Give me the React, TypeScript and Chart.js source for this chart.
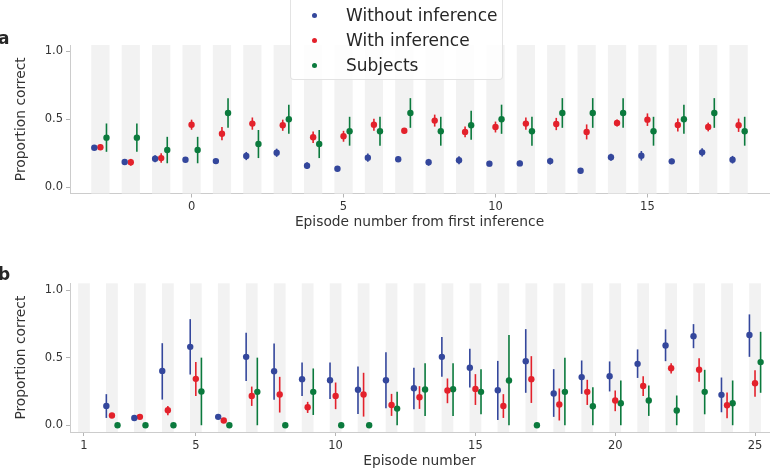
import React, { useEffect, useRef } from 'react';
import { Chart, registerables } from 'chart.js';

Chart.register(...registerables);

// ---------- DATA ----------
const topEpisodes = [-3, -2, -1, 0, 1, 2, 3, 4, 5, 6, 7, 8, 9, 10, 11, 12, 13, 14, 15, 16, 17, 18];
const topXTicks = [0, 5, 10, 15];
const topWithoutMean = [0.291, 0.186, 0.21, 0.203, 0.193, 0.23, 0.254, 0.159, 0.137, 0.218, 0.206, 0.184, 0.199, 0.174, 0.176, 0.193, 0.122, 0.221, 0.232, 0.191, 0.257, 0.203];
const topWithoutErr = [0.015, 0.02, 0.025, 0.02, 0.015, 0.03, 0.03, 0.025, 0.02, 0.03, 0.02, 0.025, 0.03, 0.02, 0.02, 0.025, 0.02, 0.025, 0.035, 0.02, 0.03, 0.028];
const topWithMean = [0.294, 0.184, 0.215, 0.46, 0.394, 0.468, 0.456, 0.368, 0.375, 0.46, 0.416, 0.49, 0.407, 0.443, 0.468, 0.465, 0.407, 0.473, 0.497, 0.458, 0.443, 0.456];
const topWithErr = [0.02, 0.025, 0.035, 0.037, 0.049, 0.045, 0.041, 0.043, 0.04, 0.044, 0.02, 0.044, 0.04, 0.04, 0.045, 0.045, 0.055, 0.026, 0.046, 0.048, 0.032, 0.049];
const topSubjectsMean = [0.365, 0.365, 0.274, 0.274, 0.546, 0.318, 0.5, 0.318, 0.412, 0.412, 0.546, 0.412, 0.456, 0.5, 0.412, 0.546, 0.546, 0.546, 0.412, 0.5, 0.546, 0.412];
const topSubjectsErr = [0.104, 0.104, 0.097, 0.097, 0.109, 0.103, 0.107, 0.103, 0.106, 0.106, 0.109, 0.106, 0.107, 0.107, 0.106, 0.109, 0.109, 0.109, 0.106, 0.107, 0.109, 0.106];

const bottomEpisodes = [1, 2, 3, 4, 5, 6, 7, 8, 9, 10, 11, 12, 13, 14, 15, 16, 17, 18, 19, 20, 21, 22, 23, 24, 25];
const bottomXTicks = [1, 5, 10, 15, 20, 25];
const bottomWithoutMean = [null, 0.143, 0.054, 0.402, 0.58, 0.062, 0.506, 0.4, 0.341, 0.333, 0.262, 0.333, 0.274, 0.506, 0.425, 0.259, 0.474, 0.235, 0.356, 0.363, 0.454, 0.59, 0.659, 0.225, 0.667];
const bottomWithoutLo = [null, 0.054, 0.05, 0.19, 0.375, 0.058, 0.328, 0.188, 0.217, 0.195, 0.084, 0.126, 0.119, 0.358, 0.279, 0.039, 0.24, 0.062, 0.232, 0.25, 0.35, 0.474, 0.57, 0.096, 0.506];
const bottomWithoutHi = [null, 0.23, 0.058, 0.607, 0.785, 0.066, 0.684, 0.605, 0.464, 0.464, 0.435, 0.54, 0.425, 0.652, 0.565, 0.476, 0.711, 0.415, 0.479, 0.472, 0.561, 0.709, 0.748, 0.353, 0.82];
const bottomWithMean = [null, 0.072, 0.062, 0.111, 0.343, 0.035, 0.217, 0.227, 0.133, 0.217, 0.227, 0.15, 0.207, 0.257, 0.269, 0.143, 0.341, 0.153, 0.247, 0.183, 0.291, 0.422, 0.41, 0.148, 0.311];
const bottomWithLo = [null, 0.055, 0.058, 0.074, 0.217, 0.031, 0.143, 0.094, 0.091, 0.119, 0.064, 0.069, 0.121, 0.163, 0.15, 0.054, 0.165, 0.035, 0.15, 0.104, 0.217, 0.383, 0.321, 0.052, 0.21];
const bottomWithHi = [null, 0.09, 0.066, 0.143, 0.467, 0.039, 0.286, 0.358, 0.173, 0.316, 0.388, 0.232, 0.289, 0.346, 0.378, 0.23, 0.511, 0.272, 0.336, 0.257, 0.363, 0.459, 0.496, 0.242, 0.407];
const bottomSubjectsMean = [null, 0, 0, 0, 0.25, 0, 0.247, 0, 0.247, 0, 0, 0.123, 0.264, 0.267, 0.247, 0.331, 0, 0.247, 0.141, 0.163, 0.183, 0.109, 0.247, 0.163, 0.467];
const bottomSubjectsLo = [null, 0, 0, 0, 0, 0, 0, 0, 0.076, 0, 0, 0, 0.069, 0.069, 0.081, 0, 0, 0, 0, 0, 0.069, 0, 0.081, 0, 0.24];
const bottomSubjectsHi = [null, 0, 0, 0, 0.5, 0, 0.5, 0, 0.42, 0, 0, 0.247, 0.459, 0.459, 0.415, 0.667, 0, 0.5, 0.281, 0.331, 0.294, 0.22, 0.41, 0.331, 0.691];

const yTicks = [0, 0.5, 1.0];
const seriesNames = ['Without inference', 'With inference', 'Subjects'];
const seriesColors = ['#34479c', '#e3212b', '#0b7a3d'];
const seriesOffsets = [-0.2, 0, 0.2];

const FONT = "'DejaVu Sans', 'Liberation Sans', sans-serif";

// ---------- helpers ----------
function makePoints(episodes: number[], means: (number | null)[], lo: (number | null)[], hi: (number | null)[], offset: number) {
  const pts: any[] = [];
  episodes.forEach((e, i) => {
    const m = means[i];
    if (m === null || m === undefined) return;
    pts.push({ x: e + offset, y: m, lo: lo[i], hi: hi[i] });
  });
  return pts;
}

const bandsAndErrors = {
  id: 'bandsAndErrors',
  beforeDatasetsDraw(chart: any, _args: any, opts: any) {
    const { ctx, chartArea, scales } = chart;
    const x = scales.x;
    const y = scales.y;
    ctx.save();
    ctx.fillStyle = opts.bandColor;
    for (const e of opts.bands) {
      const x0 = x.getPixelForValue(e - opts.halfWidth);
      const x1 = x.getPixelForValue(e + opts.halfWidth);
      ctx.fillRect(x0, chartArea.top, x1 - x0, chartArea.bottom - chartArea.top);
    }
    chart.data.datasets.forEach((ds: any) => {
      ctx.strokeStyle = ds.errColor;
      ctx.lineWidth = 1.6;
      ds.data.forEach((p: any) => {
        if (p.lo === null || p.hi === null) return;
        const px = x.getPixelForValue(p.x);
        ctx.beginPath();
        ctx.moveTo(px, y.getPixelForValue(p.lo));
        ctx.lineTo(px, y.getPixelForValue(p.hi));
        ctx.stroke();
      });
    });
    ctx.restore();
  },
};

function buildConfig(opts: {
  episodes: number[];
  series: { mean: (number | null)[]; lo: (number | null)[]; hi: (number | null)[] }[];
  xMin: number;
  xMax: number;
  xTicks: number[];
  yMin: number;
  yMax: number;
  xTitle: string;
  xAxisHeight: number;
  xTitlePad: number;
  padTop: number;
  halfBand: number;
}) {
  const datasets = opts.series.map((s, i) => ({
    label: seriesNames[i],
    data: makePoints(opts.episodes, s.mean, s.lo, s.hi, seriesOffsets[i]),
    backgroundColor: seriesColors[i],
    borderColor: seriesColors[i],
    pointBackgroundColor: seriesColors[i],
    pointBorderWidth: 0,
    pointRadius: 3.2,
    showLine: false,
    errColor: seriesColors[i],
  }));
  return {
    type: 'scatter' as const,
    data: { datasets },
    plugins: [bandsAndErrors],
    options: {
      animation: false,
      responsive: false,
      events: [],
      layout: { padding: { top: opts.padTop, right: 0.5, left: 0, bottom: 0 } },
      plugins: {
        legend: { display: false },
        tooltip: { enabled: false },
        bandsAndErrors: { bands: opts.episodes, halfWidth: opts.halfBand, bandColor: '#f2f2f2' },
      },
      scales: {
        x: {
          type: 'linear',
          min: opts.xMin,
          max: opts.xMax,
          afterBuildTicks: (s: any) => {
            s.ticks = opts.xTicks.map((v) => ({ value: v }));
          },
          afterFit: (s: any) => {
            s.height = opts.xAxisHeight;
          },
          ticks: {
            autoSkip: false,
            maxRotation: 0,
            padding: 3,
            color: '#333333',
            font: { family: FONT, size: 11.5 },
            callback: (v: any) => String(v),
          },
          grid: { drawOnChartArea: false, drawTicks: true, tickLength: 4, color: '#b5b5b5', tickColor: '#b5b5b5' },
          border: { display: true, color: '#cccccc', width: 1 },
          title: {
            display: true,
            text: opts.xTitle,
            color: '#333333',
            font: { family: FONT, size: 13.8, lineHeight: 1 },
            padding: { top: 0, bottom: opts.xTitlePad },
          },
        },
        y: {
          type: 'linear',
          min: opts.yMin,
          max: opts.yMax,
          afterBuildTicks: (s: any) => {
            s.ticks = yTicks.map((v) => ({ value: v }));
          },
          afterFit: (s: any) => {
            s.width = 70;
          },
          ticks: {
            padding: 3,
            color: '#333333',
            font: { family: FONT, size: 11.5 },
            callback: (v: any) => Number(v).toFixed(1),
          },
          grid: { drawOnChartArea: false, drawTicks: true, tickLength: 4, color: '#b5b5b5', tickColor: '#b5b5b5' },
          border: { display: true, color: '#cccccc', width: 1 },
          title: {
            display: true,
            text: 'Proportion correct',
            color: '#333333',
            font: { family: FONT, size: 13.8, lineHeight: 1 },
            padding: { top: 15, bottom: 0 },
          },
        },
      },
    },
  };
}

export default function App() {
  const topRef = useRef<HTMLCanvasElement | null>(null);
  const bottomRef = useRef<HTMLCanvasElement | null>(null);

  useEffect(() => {
    Chart.defaults.font.family = FONT;
    const topChart = new Chart(
      topRef.current as HTMLCanvasElement,
      buildConfig({
        episodes: topEpisodes,
        series: [
          { mean: topWithoutMean, lo: topWithoutMean.map((m, i) => m - topWithoutErr[i]), hi: topWithoutMean.map((m, i) => m + topWithoutErr[i]) },
          { mean: topWithMean, lo: topWithMean.map((m, i) => m - topWithErr[i]), hi: topWithMean.map((m, i) => m + topWithErr[i]) },
          { mean: topSubjectsMean, lo: topSubjectsMean.map((m, i) => m - topSubjectsErr[i]), hi: topSubjectsMean.map((m, i) => m + topSubjectsErr[i]) },
        ],
        xMin: -4,
        xMax: 19,
        xTicks: topXTicks,
        yMin: -0.045,
        yMax: 1.045,
        xTitle: 'Episode number from first inference',
        xAxisHeight: 46.5,
        xTitlePad: 11,
        padTop: 45,
        halfBand: 0.3,
      }) as any
    );
    const bottomChart = new Chart(
      bottomRef.current as HTMLCanvasElement,
      buildConfig({
        episodes: bottomEpisodes,
        series: [
          { mean: bottomWithoutMean, lo: bottomWithoutLo, hi: bottomWithoutHi },
          { mean: bottomWithMean, lo: bottomWithLo, hi: bottomWithHi },
          { mean: bottomSubjectsMean, lo: bottomSubjectsLo, hi: bottomSubjectsHi },
        ],
        xMin: 0.5,
        xMax: 25.5,
        xTicks: bottomXTicks,
        yMin: -0.05,
        yMax: 1.05,
        xTitle: 'Episode number',
        xAxisHeight: 37,
        xTitlePad: 0.5,
        padTop: 43.3,
        halfBand: 0.21,
      }) as any
    );
    return () => {
      topChart.destroy();
      bottomChart.destroy();
    };
  }, []);

  return (
    <div style={{ position: 'absolute', left: 0, top: 0, width: 773, height: 469, background: '#ffffff', overflow: 'hidden', fontFamily: FONT }}>
      <canvas ref={topRef} width={773} height={240} style={{ position: 'absolute', left: 0, top: 0, display: 'block' }} />
      <canvas ref={bottomRef} width={773} height={229} style={{ position: 'absolute', left: 0, top: 240, display: 'block' }} />
      <div style={{ position: 'absolute', left: -2, top: 30, fontSize: 17, fontWeight: 'bold', lineHeight: 1, color: '#262626' }}>a</div>
      <div style={{ position: 'absolute', left: -2, top: 265.5, fontSize: 17, fontWeight: 'bold', lineHeight: 1, color: '#262626' }}>b</div>
      <div
        style={{
          position: 'absolute',
          left: 290,
          top: -5,
          width: 213,
          height: 85,
          boxSizing: 'border-box',
          background: 'rgba(255,255,255,0.82)',
          border: '1px solid rgba(220,220,220,0.8)',
          borderRadius: 4,
        }}
      >
        {seriesNames.map((name, i) => (
          <div key={name} style={{ position: 'absolute', left: 0, top: 9 + i * 25, height: 20, width: 212 }}>
            <span
              style={{
                position: 'absolute',
                left: 23 - 2.5,
                top: 10 - 2.5,
                width: 5,
                height: 5,
                borderRadius: '50%',
                background: seriesColors[i],
              }}
            />
            <span
              style={{
                position: 'absolute',
                left: 55,
                top: 0,
                lineHeight: '20px',
                fontSize: 17,
                color: '#262626',
                whiteSpace: 'nowrap',
              }}
            >
              {name}
            </span>
          </div>
        ))}
      </div>
    </div>
  );
}
